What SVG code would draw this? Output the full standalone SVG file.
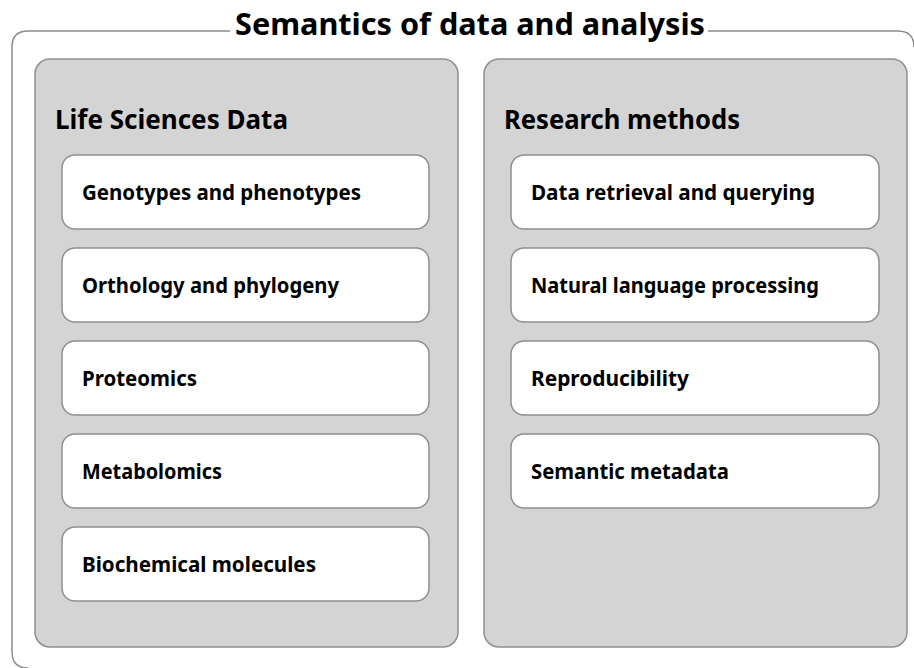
<svg xmlns="http://www.w3.org/2000/svg" width="914" height="668" viewBox="0 0 914 668">
<style>
.frame{fill:none;stroke:#8c8c8c;stroke-width:1.5}
.panel{fill:#d4d4d4;stroke:#8f8f8f;stroke-width:1.5}
.box{fill:#ffffff;stroke:#8f8f8f;stroke-width:1.5}
text{font-family:"Noto Sans","DejaVu Sans",sans-serif;font-weight:bold;fill:#000}
.title{font-size:30px}
.head{font-size:27px}
.item{font-size:21px}
</style>
<rect width="914" height="668" fill="#ffffff"/>
<g id="frame">
<path class="frame" d="M230 31 H28 Q12 31 12 47 V652 Q12 668 28 668"/>
<path class="frame" d="M708 31 H898 Q914 31 914 47"/>
<text class="title" x="470" y="35" text-anchor="middle" textLength="470" lengthAdjust="spacingAndGlyphs">Semantics of data and analysis</text>
</g>
<g id="panel-life">
<rect class="panel" x="35" y="59" width="423" height="588" rx="15"/>
<text class="head" x="55" y="129" textLength="233" lengthAdjust="spacingAndGlyphs">Life Sciences Data</text>
</g>
<g id="panel-methods">
<rect class="panel" x="484" y="59" width="423" height="588" rx="15"/>
<text class="head" x="504" y="129" textLength="236" lengthAdjust="spacingAndGlyphs">Research methods</text>
</g>
<g id="n1"><rect class="box" x="62" y="155" width="367" height="74" rx="13"/><text class="item" x="82" y="200" textLength="279" lengthAdjust="spacingAndGlyphs">Genotypes and phenotypes</text></g>
<g id="n2"><rect class="box" x="62" y="248" width="367" height="74" rx="13"/><text class="item" x="82" y="293" textLength="257" lengthAdjust="spacingAndGlyphs">Orthology and phylogeny</text></g>
<g id="n3"><rect class="box" x="62" y="341" width="367" height="74" rx="13"/><text class="item" x="82" y="386" textLength="115" lengthAdjust="spacingAndGlyphs">Proteomics</text></g>
<g id="n4"><rect class="box" x="62" y="434" width="367" height="74" rx="13"/><text class="item" x="82" y="479" textLength="140" lengthAdjust="spacingAndGlyphs">Metabolomics</text></g>
<g id="n5"><rect class="box" x="62" y="527" width="367" height="74" rx="13"/><text class="item" x="82" y="572" textLength="234" lengthAdjust="spacingAndGlyphs">Biochemical molecules</text></g>
<g id="m1"><rect class="box" x="511" y="155" width="368" height="74" rx="13"/><text class="item" x="531" y="200" textLength="284" lengthAdjust="spacingAndGlyphs">Data retrieval and querying</text></g>
<g id="m2"><rect class="box" x="511" y="248" width="368" height="74" rx="13"/><text class="item" x="531" y="293" textLength="288" lengthAdjust="spacingAndGlyphs">Natural language processing</text></g>
<g id="m3"><rect class="box" x="511" y="341" width="368" height="74" rx="13"/><text class="item" x="531" y="386" textLength="158" lengthAdjust="spacingAndGlyphs">Reproducibility</text></g>
<g id="m4"><rect class="box" x="511" y="434" width="368" height="74" rx="13"/><text class="item" x="531" y="479" textLength="198" lengthAdjust="spacingAndGlyphs">Semantic metadata</text></g>
<g id="connectors"></g>
</svg>
